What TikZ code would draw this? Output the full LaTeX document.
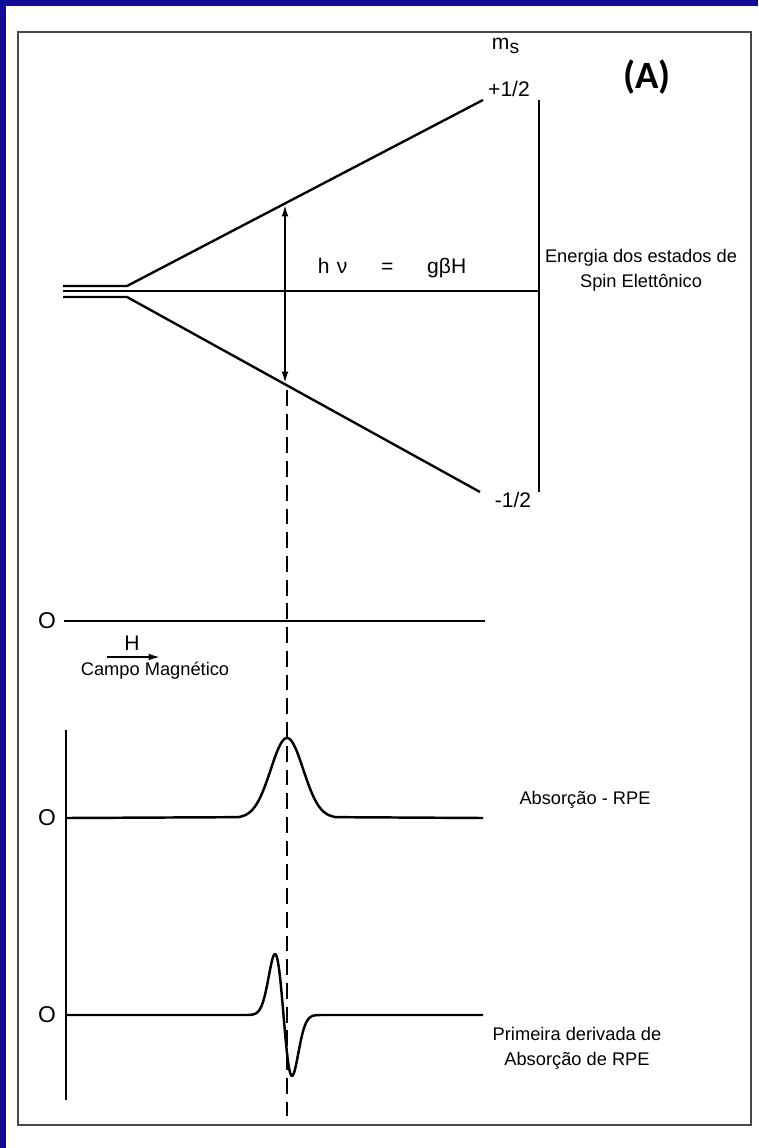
\documentclass[tikz,border=0pt]{standalone}
\usepackage{fontspec}
\setmainfont{Liberation Sans}
\newfontfamily\tagfont{Carlito}
\usetikzlibrary{arrows.meta,positioning,calc}
\definecolor{bgblue}{RGB}{14,12,152}
\definecolor{framegray}{RGB}{72,72,72}

\begin{document}
\begin{tikzpicture}[x=0.02cm, y=-0.02cm,
    >={Latex[length=7pt,width=3.8pt]},
    level/.style={line width=1.35pt},
    curve/.style={line width=1.4pt, line join=round},
    guide/.style={line width=1.2pt, dash pattern=on 9pt off 4.5pt},
    lab/.style={font=\fontsize{10.4}{14.2}\selectfont, inner sep=1pt, align=center},
    small/.style={font=\fontsize{12}{13}\selectfont, inner sep=1pt},
    zero/.style={font=\fontsize{13}{13}\selectfont, inner sep=1pt},
    tag/.style={font=\tagfont\bfseries\fontsize{22}{23}\selectfont, inner sep=1pt}]
  \useasboundingbox (0,0) rectangle (758,1148);
  \fill[bgblue] (0,0) rectangle (758,1148);
  \fill[white] (6,6) rectangle (758,1148);
  \draw[framegray, line width=1.2pt] (18,32) rectangle (751,1125);

  % energy levels
  \coordinate (lt) at (63,286);
  \coordinate (lm) at (63,291);
  \coordinate (lb) at (63,297);
  \coordinate (ft) at (127,286);
  \coordinate (fb) at (127,297);
  \coordinate (hi) at (483,100);
  \coordinate (lo) at (480,492);
  \coordinate (rm) at (539,291);
  \node[small] (ms) at (506,46) {m\textsubscript{\fontsize{11}{11}\selectfont s}};
  \node[small] (up) at (509,89) {+1/2};
  \node[small] (dn) at (513,500) {-1/2};
  \node[tag] (A) at (647,77) {(A)};
  \draw[level] (lt) -- (ft) -- (hi);
  \draw[level] (lb) -- (fb) -- (lo);
  \draw[level] (lm) -- (rm);
  \draw[level] (539,100) -- (539,492);
  \node[lab, font=\fontsize{12}{13}\selectfont] (hv) at (392,268)
    {h\hspace{0.35em}ν\hspace{1.6em}=\hspace{1.6em}gβH};
  \node[lab] (energy) at (641,270) {Energia dos estados de\\Spin Elettônico};
  \coordinate (a1) at (285,204);
  \coordinate (a2) at (285,384);
  \draw[level, <->] (a1) -- (a2);
  \coordinate (d1) at (287,390);
  \coordinate (d2) at (287,1116);
  \draw[guide] (d1) -- (d2);

  % field axis
  \node[zero] (z0) at (47,621) {O};
  \draw[level] (z0.east) ++(6,0) -- (485,621);
  \node[lab, font=\fontsize{12}{13}\selectfont] (H) at (132,643) {H};
  \coordinate (h1) at (107,657);
  \coordinate (h2) at (161,657);
  \draw[level, ->] (h1) -- (h2);
  \node[lab] (campo) at (155,671) {Campo Magnético};

  % spectra
  \draw[level] (66,730) -- (66,1100);
  \node[zero] (z1) at (47,818) {O};
  \draw[curve] (66,818) -- plot[domain=238:336, samples=90]
    (\x, {818-80*exp(-(((\x-287)/23)^2))}) -- (483,818);
  \node[lab] (abs) at (585,800) {Absorção - RPE};
  \node[zero] (z2) at (47,1015) {O};
  \draw[curve] (66,1015) -- plot[domain=246:322, samples=120]
    (\x, {1015+142*((\x-283.5)/12)*exp(-(((\x-283.5)/12)^2))}) -- (483,1015);
  \node[lab] (deriv) at (577,1048) {Primeira derivada de\\Absorção de RPE};
\end{tikzpicture}
\end{document}
